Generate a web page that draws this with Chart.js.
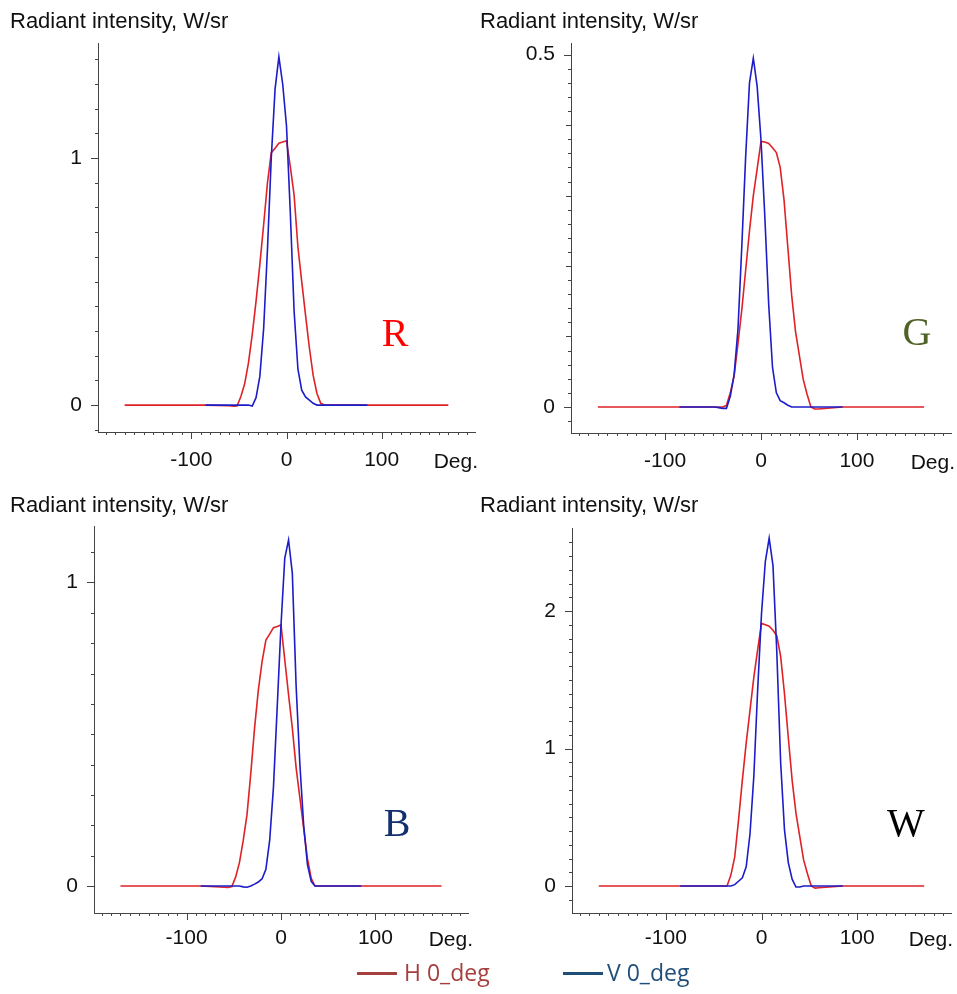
<!DOCTYPE html>
<html>
<head>
<meta charset="utf-8">
<script src="https://cdn.jsdelivr.net/npm/chart.js@4.4.0/dist/chart.umd.min.js"></script>
<style>
  body { margin: 0; width: 957px; height: 994px; background: #fff; position: relative; overflow: hidden; }
  canvas { position: absolute; }
  .leg-line { position: absolute; height: 3px; width: 40px; }
  .leg-text { position: absolute; font-family: 'Open Sans', sans-serif; font-size: 23px; line-height: 28px; white-space: nowrap; }
</style>
</head>
<body>
<canvas id="chartR" width="478" height="490" style="left:0;top:0"></canvas>
<canvas id="chartG" width="479" height="490" style="left:478px;top:0"></canvas>
<canvas id="chartB" width="478" height="470" style="left:0;top:490px"></canvas>
<canvas id="chartW" width="479" height="470" style="left:478px;top:490px"></canvas>

<div class="leg-line" style="left:357px;top:972px;background:#a5403e"></div>
<div class="leg-text" style="left:404px;top:958px;color:#a5403e">H 0_deg</div>
<div class="leg-line" style="left:563px;top:972px;background:#1f4e79"></div>
<div class="leg-text" style="left:607px;top:958px;color:#1f4e79">V 0_deg</div>

<script>
// angles in degrees (shared by all panels)
const angles = [-170, -85, -60, -56, -52, -48, -44, -40, -36, -32, -28, -24, -20, -16, -12, -8, -4, 0,
                4, 8, 12, 16, 20, 24, 28, 32, 36, 40, 44, 48, 52, 56, 60, 85, 170]

// R
const rH = [0, 0, -0.003, -0.005, -0.004, 0.034, 0.085, 0.17, 0.285, 0.42, 0.57, 0.73, 0.90, 1.022, 1.04, 1.06, 1.065, 1.07,
            0.965, 0.85, 0.64, 0.50, 0.364, 0.233, 0.12, 0.047, 0.007, 0, 0, 0, 0, 0, 0, 0, 0]
const rV = [null, 0, 0, 0, 0, 0, 0, 0, -0.004, 0.03, 0.116, 0.31, 0.63, 1.0, 1.28, 1.41, 1.30, 1.13,
            0.78, 0.38, 0.145, 0.06, 0.033, 0.02, 0.007, 0, 0, 0, 0, 0, 0, 0, 0, 0, null]
// G
const gH = [0, 0, 0, 0, 0, 0, 0, 0, 0.002, 0.02, 0.044, 0.09, 0.138, 0.194, 0.25, 0.30, 0.338, 0.377,
            0.376, 0.374, 0.368, 0.361, 0.34, 0.294, 0.226, 0.158, 0.107, 0.073, 0.039, 0.018, 0, -0.003, -0.003, 0, 0]
const gV = [null, 0, 0, 0, 0, 0, -0.001, -0.002, -0.002, 0.015, 0.046, 0.11, 0.228, 0.355, 0.46, 0.495, 0.455, 0.379,
            0.27, 0.146, 0.056, 0.02, 0.009, 0.006, 0.0025, 0, 0, 0, 0, 0, 0, 0, 0, 0, null]
// B
const bH = [0, 0, -0.004, -0.005, -0.002, 0.03, 0.077, 0.15, 0.235, 0.37, 0.52, 0.645, 0.74, 0.81, 0.83, 0.851, 0.855, 0.86,
            0.745, 0.63, 0.52, 0.39, 0.29, 0.19, 0.09, 0.025, 0, 0, 0, 0, 0, 0, 0, 0, 0]
const bV = [null, 0, 0, 0, 0, 0, 0, -0.003, -0.004, 0, 0.006, 0.013, 0.024, 0.055, 0.15, 0.325, 0.59, 0.86,
            1.08, 1.14, 1.03, 0.66, 0.40, 0.20, 0.07, 0.015, 0, 0, 0, 0, 0, 0, 0, 0, null]
// W
const wH = [0, 0, 0, 0, 0, 0, 0, 0, 0, 0.08, 0.21, 0.48, 0.77, 1.04, 1.28, 1.52, 1.72, 1.91,
            1.90, 1.89, 1.86, 1.82, 1.67, 1.40, 1.08, 0.77, 0.53, 0.36, 0.19, 0.09, 0, -0.015, -0.012, 0, 0]
const wV = [null, 0, 0, 0, 0, 0, 0, 0, 0, 0, 0.01, 0.035, 0.06, 0.14, 0.38, 0.80, 1.43, 1.98,
            2.36, 2.53, 2.33, 1.70, 0.90, 0.41, 0.17, 0.05, -0.007, -0.007, 0, 0, 0, 0, 0, 0, null]

// tick labels
const xTickLabels = [-100, 0, 100]
const rTicks = [0, 1]
const gTicks = [0, 0.5]
const bTicks = [0, 1]
const wTicks = [0, 1, 2]

const FONT = "'Liberation Sans', Arial, sans-serif"

// minor ticks, title, panel letter and "Deg."
const extras = {
    id: 'extras',
    afterDraw(chart, args, o) {
        const ctx = chart.ctx
        const a = chart.chartArea
        const x = chart.scales.x, y = chart.scales.y
        ctx.save()
        ctx.strokeStyle = '#444'
        ctx.lineWidth = 1
        for (let v = -190; v <= 190; v += 10) {
            const px = Math.round(x.getPixelForValue(v)) + 0.5
            const len = v % 100 === 0 ? 7 : 3
            ctx.beginPath(); ctx.moveTo(px, a.bottom); ctx.lineTo(px, a.bottom + len); ctx.stroke()
        }
        const n = Math.round((o.yTo - o.yFrom) / o.yStep)
        for (let i = 0; i <= n; i++) {
            const v = o.yFrom + i * o.yStep
            const py = Math.round(y.getPixelForValue(v)) + 0.5
            let len = 3
            if (o.yMid && Math.abs(v / o.yMid - Math.round(v / o.yMid)) < 1e-6) len = 5
            if (o.major.some(m => Math.abs(m - v) < 1e-6)) len = 7
            ctx.beginPath(); ctx.moveTo(a.left, py); ctx.lineTo(a.left - len, py); ctx.stroke()
        }
        ctx.fillStyle = '#111'
        ctx.font = '22px ' + FONT
        ctx.textAlign = 'left'
        ctx.textBaseline = 'alphabetic'
        ctx.fillText('Radiant intensity, W/sr', o.titleX, o.titleY)
        ctx.font = '21px ' + FONT
        ctx.textAlign = 'right'
        ctx.fillText('Deg.', o.degX, o.degY)
        ctx.font = "40px 'Liberation Serif', 'Times New Roman', serif"
        ctx.textAlign = 'center'
        ctx.fillStyle = o.letterColor
        ctx.fillText(o.letter, o.letterX, o.letterY)
        ctx.restore()
    }
}

function makePanel(id, H, V, box, area, yMin, yMax, major, ex) {
    const ctx = document.getElementById(id).getContext('2d')
    return new Chart(ctx, {
        type: 'line',
        data: {
            datasets: [{
                label: 'V 0_deg',
                data: angles.map((a, i) => ({ x: a, y: V[i] })),
                borderColor: '#1c1cc8',
                borderWidth: 1.6,
                pointRadius: 0,
                tension: 0,
                spanGaps: false
            }, {
                label: 'H 0_deg',
                data: angles.map((a, i) => ({ x: a, y: H[i] })),
                borderColor: '#de2226',
                borderWidth: 1.6,
                pointRadius: 0,
                tension: 0
            }]
        },
        plugins: [extras],
        options: {
            responsive: false,
            animation: false,
            layout: {
                padding: { left: 0, top: area.t - box.y, right: box.x + box.w - area.r, bottom: 0 }
            },
            scales: {
                x: {
                    type: 'linear',
                    min: -198, max: 198,
                    afterFit: s => { s.height = box.y + box.h - area.b },
                    afterBuildTicks: s => { s.ticks = xTickLabels.map(v => ({ value: v })) },
                    grid: { display: false, drawTicks: false },
                    border: { display: true, color: '#444', width: 1 },
                    ticks: { padding: ex.xPad, color: '#111', font: { family: FONT, size: 21 }, maxRotation: 0, autoSkip: false,
                             callback: v => String(v) }
                },
                y: {
                    min: yMin, max: yMax,
                    afterFit: s => { s.width = area.l - box.x },
                    afterBuildTicks: s => { s.ticks = major.map(v => ({ value: v })) },
                    grid: { display: false, drawTicks: false },
                    border: { display: true, color: '#444', width: 1 },
                    ticks: { padding: 16, color: '#111', font: { family: FONT, size: 21 }, autoSkip: false,
                             callback: v => String(v) }
                }
            },
            plugins: {
                legend: { display: false },
                tooltip: { enabled: false },
                extras: Object.assign({ major: major }, ex)
            }
        }
    })
}

makePanel('chartR', rH, rV, { x: 0, y: 0, w: 478, h: 490 }, { l: 98, t: 43, r: 475, b: 432 }, -0.109, 1.466, rTicks,
    { xPad: 16, yFrom: -0.1, yTo: 1.4, yStep: 0.1, titleX: 10, titleY: 28, degX: 478, degY: 468,
      letter: 'R', letterColor: '#ff0000', letterX: 395, letterY: 346 })
makePanel('chartG', gH, gV, { x: 478, y: 0, w: 479, h: 490 }, { l: 571, t: 43, r: 951, b: 433 }, -0.037, 0.5166, gTicks,
    { xPad: 16, yFrom: -0.02, yTo: 0.5, yStep: 0.02, yMid: 0.1, titleX: 2, titleY: 28, degX: 477, degY: 469,
      letter: 'G', letterColor: '#4f6228', letterX: 439, letterY: 345 })
makePanel('chartB', bH, bV, { x: 0, y: 490, w: 478, h: 470 }, { l: 94, t: 526, r: 468, b: 913 }, -0.089, 1.186, bTicks,
    { xPad: 13, yFrom: 0, yTo: 1.1, yStep: 0.1, titleX: 10, titleY: 22, degX: 473, degY: 456,
      letter: 'B', letterColor: '#13306e', letterX: 397, letterY: 346 })
makePanel('chartW', wH, wV, { x: 478, y: 490, w: 479, h: 470 }, { l: 572, t: 528, r: 951, b: 913 }, -0.196, 2.604, wTicks,
    { xPad: 13, yFrom: -0.1, yTo: 2.5, yStep: 0.1, titleX: 2, titleY: 22, degX: 475, degY: 456,
      letter: 'W', letterColor: '#000000', letterX: 428, letterY: 346 })
</script>
</body>
</html>
